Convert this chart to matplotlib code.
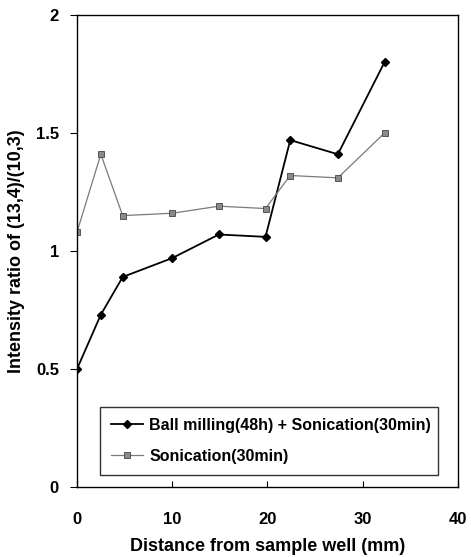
import matplotlib.pyplot as plt

# distance from sample well (mm)
dist = [0, 2.5, 4.8, 10, 14.9, 19.8, 22.4, 27.4, 32.3]
ball_milling = [0.50, 0.73, 0.89, 0.97, 1.07, 1.06, 1.47, 1.41, 1.80]
sonication = [1.08, 1.41, 1.15, 1.16, 1.19, 1.18, 1.32, 1.31, 1.50]

xticks = [0, 10, 20, 30, 40]
yticks = [0, 0.5, 1, 1.5, 2]
ytick_labels = ['0', '0.5', '1', '1.5', '2']

plt.rcParams['font.family'] = ['Liberation Sans', 'DejaVu Sans']
plt.rcParams['font.weight'] = 'bold'

fig = plt.figure(figsize=(4.71, 5.57), dpi=100)
ax = fig.add_axes([0.1635, 0.1257, 0.8085, 0.8473])

ax.plot(dist, ball_milling, color='black', lw=1.3, marker='D', ms=4,
        label='Ball milling(48h) + Sonication(30min)')
ax.plot(dist, sonication, color='#7a7a7a', lw=0.9, marker='s', ms=4.5,
        mfc='#8a8a8a', mec='#444444', mew=0.6, label='Sonication(30min)')

ax.set_xlim(0, 40)
ax.set_ylim(0, 2)
ax.set_xticks(xticks)
ax.set_yticks(yticks)
ax.set_yticklabels(ytick_labels)
ax.tick_params(axis='x', direction='in', length=4, pad=18, labelsize=12)
ax.tick_params(axis='y', direction='out', length=5, pad=8, labelsize=12)
for s in ax.spines.values():
    s.set_linewidth(1.0)

ax.set_xlabel('Distance from sample well (mm)', fontsize=13, fontweight='bold', labelpad=8)
ax.set_ylabel('Intensity ratio of (13,4)/(10,3)', fontsize=13, fontweight='bold', labelpad=8)

leg = ax.legend(loc='lower left', bbox_to_anchor=(0.039, 0.008, 0.929, 0.16), mode='expand',
                fontsize=11.5, frameon=True, fancybox=False, edgecolor='black',
                borderpad=0.7, labelspacing=1.0, handlelength=2.0, handletextpad=0.4)
leg.get_frame().set_linewidth(1.0)

plt.savefig('out.png', dpi=100)
